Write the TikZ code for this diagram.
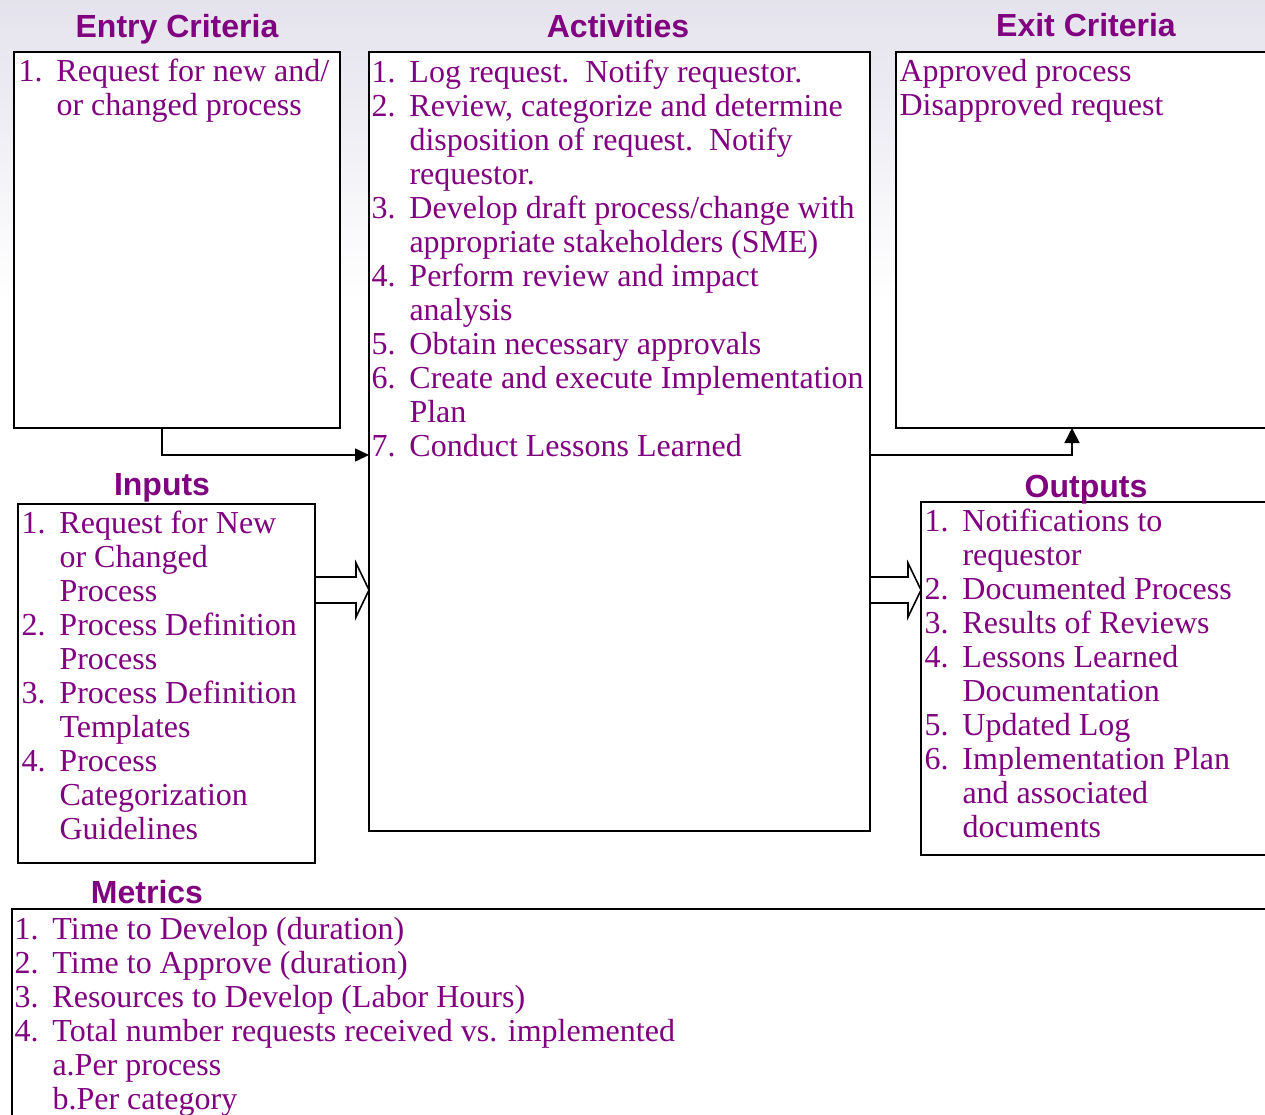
\documentclass[tikz,border=0pt]{standalone}
\usepackage{fontspec}
\setmainfont{Liberation Serif}
\newfontfamily\headfont{Liberation Sans}
\usetikzlibrary{arrows.meta,calc}
\definecolor{purp}{RGB}{128,0,128}
\definecolor{bgtop}{RGB}{228,226,236}
\newcommand\nb[1]{\makebox[38pt][l]{#1}}
\newcommand\fs{\rule{0pt}{25pt}}
\begin{document}
\begin{tikzpicture}[x=1pt,y=-1pt,
  box/.style={draw=black, line width=1.6pt, fill=white, anchor=north west, inner sep=0pt, outer sep=0pt},
  body/.style={anchor=north west, inner sep=0pt, outer sep=0pt, align=left, text=purp, font=\fontsize{32}{34}\selectfont},
  head/.style={anchor=base, inner sep=0pt, text=purp, font=\headfont\bfseries\fontsize{32}{34}\selectfont},
  conn/.style={line width=1.6pt, -{Triangle[length=14pt,width=13pt]}},
  blockarrow/.style={draw=black, line width=1.6pt, line join=miter}]
\useasboundingbox (0,0) rectangle (1265,1114);
\fill[white] (0,0) rectangle (1265,1114);
\shade[top color=bgtop, bottom color=white] (0,0) rectangle (1265,300);

% boxes
\node[box, minimum width=326pt, minimum height=376pt] (entry) at (14,52) {};
\node[box, minimum width=501pt, minimum height=779pt] (act) at (369,52) {};
\node[box, minimum width=380pt, minimum height=376pt] (exit) at (896,52) {};
\node[box, minimum width=297pt, minimum height=359pt] (inp) at (18,504) {};
\node[box, minimum width=350pt, minimum height=353pt] (outp) at (921,502) {};
\node[box, minimum width=1260pt, minimum height=220pt] (metr) at (12,909) {};

% headings
\node[head] (hentry) at (177,37) {Entry Criteria};
\node[head] (hact) at (618,37) {Activities};
\node[head] (hexit) at (1086,36) {Exit Criteria};
\node[head] (hinp) at (162,495) {Inputs};
\node[head] (houtp) at (1086,497) {Outputs};
\node[head] (hmetr) at (147,903) {Metrics};

% texts
\node[body] (entryt) at ($(entry.north west)+(4.5,4.5)$) {\fs\nb{1.}Request for new and/\\ \nb{}or changed process};
\node[body] (actt) at ($(act.north west)+(2.5,5)$) {\fs\nb{1.}Log request.\ \ Notify requestor.\\
\nb{2.}Review, categorize and determine\\
\nb{}disposition of request.\ \ Notify\\
\nb{}requestor.\\
\nb{3.}Develop draft process/change with\\
\nb{}appropriate stakeholders (SME)\\
\nb{4.}Perform review and impact\\
\nb{}analysis\\
\nb{5.}Obtain necessary approvals\\
\nb{6.}Create and execute Implementation\\
\nb{}Plan\\
\nb{7.}Conduct Lessons Learned};
\node[body] (exitt) at ($(exit.north west)+(3.5,4.5)$) {\fs Approved process\\ Disapproved request};
\node[body] (inpt) at ($(inp.north west)+(3.5,4.5)$) {\fs\nb{1.}Request for New\\
\nb{}or Changed\\
\nb{}Process\\
\nb{2.}Process Definition\\
\nb{}Process\\
\nb{3.}Process Definition\\
\nb{}Templates\\
\nb{4.}Process\\
\nb{}Categorization\\
\nb{}Guidelines};
\node[body] (outpt) at ($(outp.north west)+(3.5,4.5)$) {\fs\nb{1.}Notifications to\\
\nb{}requestor\\
\nb{2.}Documented Process\\
\nb{3.}Results of Reviews\\
\nb{4.}Lessons Learned\\
\nb{}Documentation\\
\nb{5.}Updated Log\\
\nb{6.}Implementation Plan\\
\nb{}and associated\\
\nb{}documents};
\node[body] (metrt) at ($(metr.north west)+(2.5,5.5)$) {\fs\nb{1.}Time to Develop (duration)\\
\nb{2.}Time to Approve (duration)\\
\nb{3.}Resources to Develop (Labor Hours)\\
\nb{4.}Total number requests received vs. implemented\\
\nb{}a.Per process\\
\nb{}b.Per category};

% connectors
\draw[conn] (entry.south -| 162,0) |- (act.west |- 0,455);
\draw[line width=1.6pt, -{Triangle[length=15pt,width=15pt]}] (act.east |- 0,455) -| (exit.south -| 1072,0);

% block arrows
\draw[blockarrow] (inp.east |- 0,577) -- (356,577) -- (356,563) -- (act.west |- 0,590) -- (356,617) -- (356,603) -- (inp.east |- 0,603);
\draw[blockarrow] (act.east |- 0,577) -- (908,577) -- (908,563) -- (outp.west |- 0,590) -- (908,617) -- (908,603) -- (act.east |- 0,603);
\end{tikzpicture}
\end{document}
